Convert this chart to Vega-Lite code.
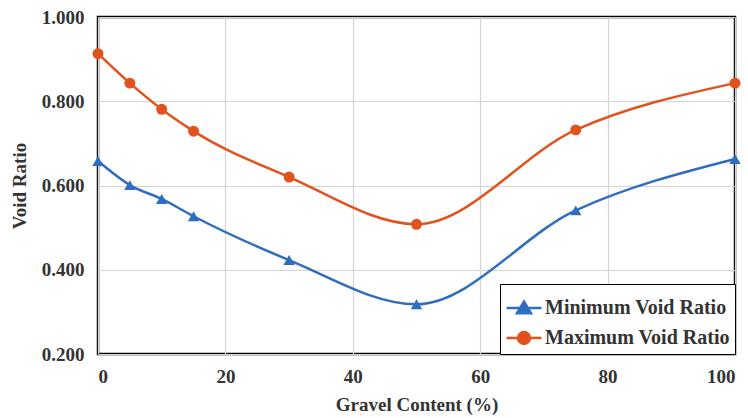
{
  "$schema": "https://vega.github.io/schema/vega-lite/v6.json",
  "width": 637,
  "height": 337,
  "autosize": "none",
  "padding": {"left": 98, "top": 17, "right": 13, "bottom": 64},
  "background": "white",
  "config": {
    "font": "Liberation Serif, Times New Roman, serif",
    "view": {"stroke": "black", "strokeWidth": 2.5},
    "axis": {
      "labelFont": "Liberation Serif, Times New Roman, serif",
      "labelFontWeight": "bold",
      "labelFontSize": 19,
      "labelColor": "#333333",
      "titleFont": "Liberation Serif, Times New Roman, serif",
      "titleFontWeight": "bold",
      "titleFontSize": 19,
      "titleColor": "#333333",
      "ticks": false,
      "domain": false,
      "gridColor": "#d4d4d4",
      "gridWidth": 1.2
    }
  },
  "data": {
    "values": [
      {"gravel": 0, "series": "Minimum Void Ratio", "e": 0.658},
      {"gravel": 5, "series": "Minimum Void Ratio", "e": 0.601},
      {"gravel": 10, "series": "Minimum Void Ratio", "e": 0.568},
      {"gravel": 15, "series": "Minimum Void Ratio", "e": 0.527},
      {"gravel": 30, "series": "Minimum Void Ratio", "e": 0.423},
      {"gravel": 50, "series": "Minimum Void Ratio", "e": 0.318},
      {"gravel": 75, "series": "Minimum Void Ratio", "e": 0.541},
      {"gravel": 100, "series": "Minimum Void Ratio", "e": 0.663},
      {"gravel": 0, "series": "Maximum Void Ratio", "e": 0.913},
      {"gravel": 5, "series": "Maximum Void Ratio", "e": 0.843},
      {"gravel": 10, "series": "Maximum Void Ratio", "e": 0.781},
      {"gravel": 15, "series": "Maximum Void Ratio", "e": 0.729},
      {"gravel": 30, "series": "Maximum Void Ratio", "e": 0.620},
      {"gravel": 50, "series": "Maximum Void Ratio", "e": 0.508},
      {"gravel": 75, "series": "Maximum Void Ratio", "e": 0.732},
      {"gravel": 100, "series": "Maximum Void Ratio", "e": 0.843}
    ]
  },
  "encoding": {
    "x": {
      "field": "gravel",
      "type": "quantitative",
      "title": "Gravel Content (%)",
      "scale": {"domain": [0, 100], "nice": false},
      "axis": {"values": [0, 20, 40, 60, 80, 100], "labelPadding": 13, "titlePadding": 9}
    },
    "y": {
      "field": "e",
      "type": "quantitative",
      "title": "Void Ratio",
      "scale": {"domain": [0.2, 1.0], "nice": false, "zero": false},
      "axis": {"values": [0.2, 0.4, 0.6, 0.8, 1.0], "format": ".3f", "labelPadding": 14, "titlePadding": 12}
    }
  },
  "layer": [
    {
      "mark": {"type": "line", "interpolate": "monotone", "strokeWidth": 2.5},
      "encoding": {
        "color": {
          "field": "series",
          "type": "nominal",
          "scale": {
            "domain": ["Minimum Void Ratio", "Maximum Void Ratio"],
            "range": ["#2F6EBF", "#E2521D"]
          },
          "legend": {
            "title": null,
            "orient": "bottom-right",
            "offset": 0,
            "padding": 5,
            "rowPadding": -4,
            "strokeColor": "black",
            "fillColor": "white",
            "symbolSize": 1225,
            "symbolStrokeWidth": 2.5,
            "labelOffset": 2,
            "labelFont": "Liberation Serif, Times New Roman, serif",
            "labelFontWeight": "bold",
            "labelFontSize": 20,
            "labelColor": "#333333",
            "labelLimit": 300,
            "encode": {
              "symbols": {
                "update": {
                  "shape": {"signal": "datum.value === 'Minimum Void Ratio' ? 'M-1,0H1M-0.4,0.3L0,-0.36L0.4,0.3Z' : 'M-1,0H1M0.34,0A0.34,0.34,0,1,1,-0.34,0A0.34,0.34,0,1,1,0.34,0Z'"},
                  "fill": {"signal": "datum.value === 'Minimum Void Ratio' ? '#2F6EBF' : '#E2521D'"},
                  "strokeWidth": {"value": 2.5}
                }
              }
            }
          }
        }
      }
    },
    {
      "transform": [{"filter": "datum.series === 'Minimum Void Ratio'"}],
      "mark": {"type": "point", "shape": "triangle-up", "filled": true, "opacity": 1, "size": 130, "color": "#2F6EBF"}
    },
    {
      "transform": [{"filter": "datum.series === 'Maximum Void Ratio'"}],
      "mark": {"type": "point", "shape": "circle", "filled": true, "opacity": 1, "size": 120, "color": "#E2521D"}
    }
  ]
}
